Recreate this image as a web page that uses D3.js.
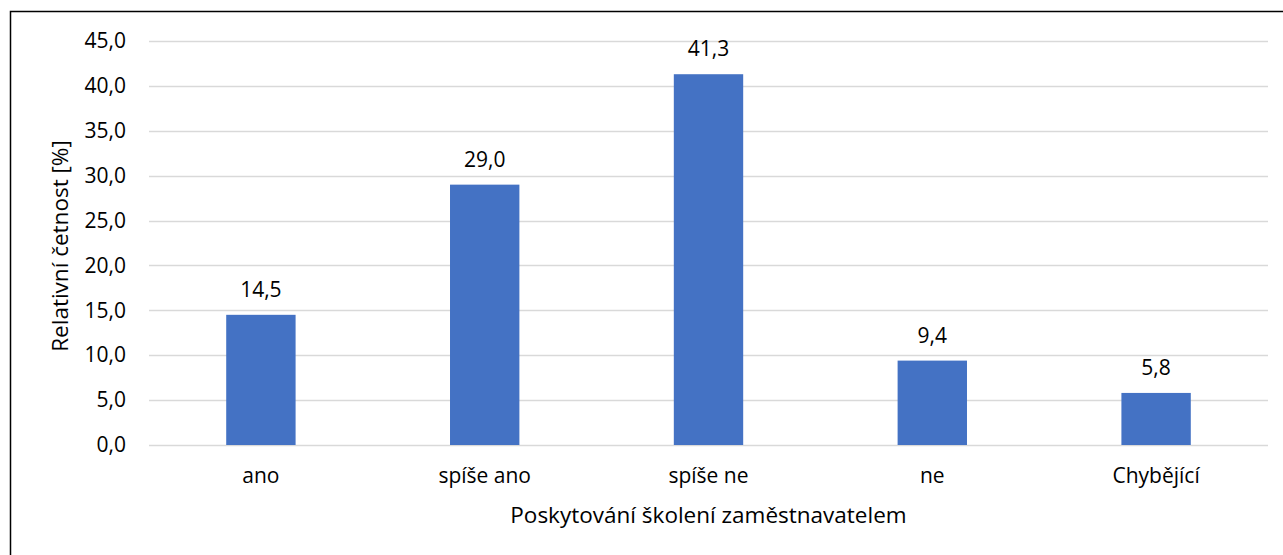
<!DOCTYPE html>
<html>
<head>
<meta charset="utf-8">
<script src="https://cdn.jsdelivr.net/npm/d3@7"></script>
<style>
  body { margin: 0; background: #fff; }
  svg text { font-family: "Open Sans", sans-serif; fill: #000; }
</style>
</head>
<body>
<div id="chart"></div>
<script>
// data
var categories = ["ano", "spíše ano", "spíše ne", "ne", "Chybějící"];
var values = [14.5, 29.0, 41.3, 9.4, 5.8];
var yTicks = [0, 5, 10, 15, 20, 25, 30, 35, 40, 45];
var yTitle = "Relativní četnost [%]";
var xTitle = "Poskytování školení zaměstnavatelem";

var w = 1283,
    h = 555,
    padLeft = 149,
    padRight = 1268,
    padTop = 41,
    padBottom = 445;

var fmt = function (v) { return v.toFixed(1).replace(".", ","); };

var svg = d3.select("#chart")
    .append("svg")
    .attr("width", w)
    .attr("height", h);

// outer frame, runs past the right and bottom edges
svg.append("rect")
    .attr("x", 10.5)
    .attr("y", 11.5)
    .attr("width", w)
    .attr("height", h)
    .attr("fill", "none")
    .attr("stroke", "#000")
    .attr("stroke-width", 1.5);

var x = d3.scaleBand().domain(categories).range([padLeft, padRight]).paddingInner(0.69).paddingOuter(0.345);
var y = d3.scaleLinear().domain([0, 45]).range([padBottom, padTop]);

// gridlines
svg.append("g")
    .selectAll("line")
    .data(yTicks)
    .enter()
    .append("line")
    .attr("x1", padLeft)
    .attr("x2", padRight)
    .attr("y1", function (d) { return Math.round(y(d)) + 0.5; })
    .attr("y2", function (d) { return Math.round(y(d)) + 0.5; })
    .style("stroke", "#d9d9d9")
    .style("stroke-width", "1.5px");

// y axis labels
var yAxis = d3.axisLeft(y).tickValues(yTicks).tickFormat(fmt).tickSize(0).tickPadding(23);
var gy = svg.append("g")
    .attr("transform", "translate(" + padLeft + ",0)")
    .call(yAxis);
gy.select(".domain").remove();
gy.selectAll("text").style("font-size", "21px");

// x axis labels
var xAxis = d3.axisBottom(x).tickSize(0).tickPadding(23);
var gx = svg.append("g")
    .attr("transform", "translate(0," + padBottom + ")")
    .call(xAxis);
gx.select(".domain").remove();
gx.selectAll("text").style("font-size", "21px");

// bars
svg.selectAll("rect.bar")
    .data(values)
    .enter()
    .append("rect")
    .attr("class", "bar")
    .attr("x", function (d, i) { return x(categories[i]); })
    .attr("y", function (d) { return y(d); })
    .attr("width", x.bandwidth())
    .attr("height", function (d) { return y(0) - y(d); })
    .attr("fill", "#4472c4");

// value labels
svg.selectAll("text.val")
    .data(values)
    .enter()
    .append("text")
    .attr("class", "val")
    .attr("x", function (d, i) { return x(categories[i]) + x.bandwidth() / 2; })
    .attr("y", function (d) { return y(d) - 18; })
    .attr("text-anchor", "middle")
    .style("font-size", "21px")
    .text(fmt);

// axis titles
svg.append("text")
    .attr("x", (padLeft + padRight) / 2)
    .attr("y", 523)
    .attr("text-anchor", "middle")
    .style("font-size", "22.5px")
    .text(xTitle);

svg.append("text")
    .attr("transform", "translate(68,246) rotate(-90)")
    .attr("text-anchor", "middle")
    .style("font-size", "22.5px")
    .text(yTitle);
</script>
</body>
</html>
